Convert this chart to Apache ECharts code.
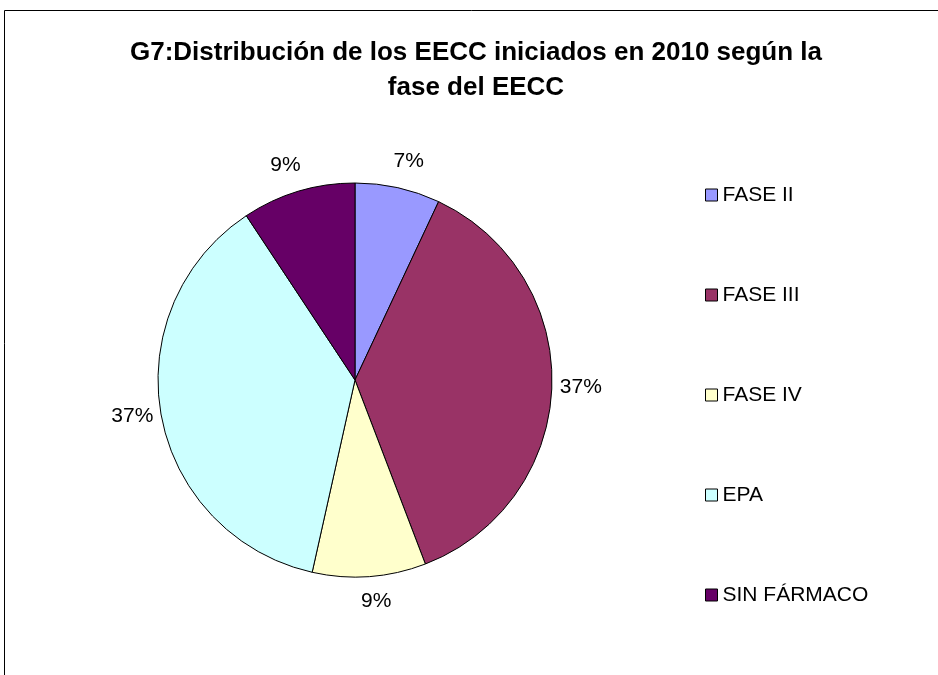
<!DOCTYPE html>
<html>
<head>
<meta charset="utf-8">
<script src="https://cdn.jsdelivr.net/npm/echarts@6/dist/echarts.min.js"></script>
<style>
  html, body { margin: 0; padding: 0; background: #fff; }
  #main { width: 938px; height: 675px; }
</style>
</head>
<body>
<div id="main"></div>
<script>
// fases de los EECC iniciados en 2010 (nº de ensayos)
var categories = ['FASE II', 'FASE III', 'FASE IV', 'EPA', 'SIN FÁRMACO'];
var values = [3, 16, 4, 16, 4];
var colors = ['#9999FF', '#993366', '#FFFFCC', '#CCFFFF', '#660066'];

// distancia de la etiqueta al borde del sector (estilo tipo Excel)
var labelGap = [27, 3, 25, 3, 27];
var centeredLabel = [true, false, true, false, true];

var chart = echarts.init(document.getElementById('main'));

var pieData = categories.map(function (name, i) {
  return {
    name: name,
    value: values[i],
    itemStyle: { color: colors[i] },
    labelLine: { length: labelGap[i], length2: 0 }
  };
});

var option = {
  animation: false,
  textStyle: { fontFamily: 'Liberation Sans, Arial, sans-serif' },
  title: {
    text: 'G7:Distribución de los EECC iniciados en 2010 según la\nfase del EECC',
    left: 471,
    top: 30,
    textAlign: 'center',
    textStyle: {
      fontSize: 26,
      fontWeight: 'bold',
      color: '#000',
      lineHeight: 35
    }
  },
  legend: {
    orient: 'vertical',
    left: 700,
    top: 178,
    itemWidth: 12,
    itemHeight: 12,
    itemGap: 76,
    icon: 'rect',
    itemStyle: { borderColor: '#000', borderWidth: 1 },
    textStyle: { fontSize: 21, color: '#000', lineHeight: 24 },
    data: categories
  },
  graphic: [{
    type: 'rect',
    shape: { x: 4.5, y: 10.5, width: 1000, height: 1000 },
    style: { fill: 'none', stroke: '#000', lineWidth: 1 },
    silent: true
  }],
  series: [{
    type: 'pie',
    center: [355, 380],
    radius: 197,
    startAngle: 90,
    clockwise: true,
    avoidLabelOverlap: false,
    itemStyle: { borderColor: '#000', borderWidth: 1 },
    label: {
      show: true,
      position: 'outside',
      formatter: function (p) { return Math.round(p.percent) + '%'; },
      fontSize: 21,
      color: '#000'
    },
    labelLine: { show: false, length: 3, length2: 0 },
    labelLayout: function (params) {
      if (centeredLabel[params.dataIndex]) {
        return { align: 'center' };
      }
      return {};
    },
    emphasis: { disabled: true },
    data: pieData
  }]
};

chart.setOption(option);
</script>
</body>
</html>
